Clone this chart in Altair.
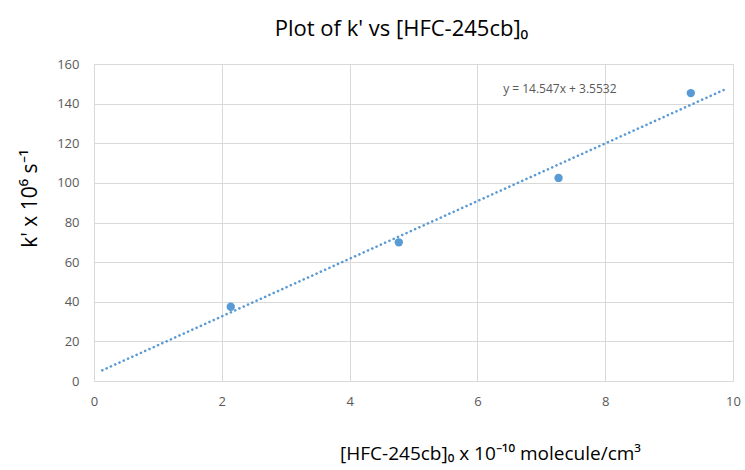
import altair as alt
import pandas as pd

# measured points
conc = [2.14, 4.77, 7.27, 9.34]
kprime = [37.5, 70.0, 102.5, 145.3]

# trendline endpoints
trend_x = [0.13, 9.87]
trend_y = [5.4, 147.1]

eq_text = ["y = 14.547x + 3.5532"]
eq_x = [7.29]
eq_y = [147.5]

x_ticks = [0, 2, 4, 6, 8, 10]
y_ticks = [0, 20, 40, 60, 80, 100, 120, 140, 160]

pts = pd.DataFrame({"x": conc, "y": kprime, "t": [""] * len(conc)})
trend = pd.DataFrame({"x": trend_x, "y": trend_y, "t": [""] * len(trend_x)})
eq = pd.DataFrame({"x": eq_x, "y": eq_y, "t": eq_text})

FONT = "Open Sans"
BLUE = "#5b9bd5"
GRID = "#d9d9d9"
TICKC = "#595959"

xscale = alt.Scale(domain=[0, 10], nice=False, zero=False)
yscale = alt.Scale(domain=[0, 160], nice=False, zero=False)

xaxis = alt.Axis(
    values=x_ticks, format="d", labelFlush=False, labelOverlap=False,
    title="[HFC-245cb]₀ x 10⁻¹⁰ molecule/cm³",
    titleX=396, titleY=72, titleAlign="center", titleBaseline="middle",
    titleFontSize=19, titleFont=FONT, titleFontWeight="normal", titleColor="#000000",
    labelFont=FONT, labelFontSize=13, labelColor=TICKC, labelPadding=14,
    tickSize=0, domainColor=GRID, gridColor=GRID, grid=True,
)
yaxis = alt.Axis(
    values=y_ticks, format="d", labelFlush=False, labelOverlap=False,
    title="k' x 10⁶ s⁻¹",
    titleX=-64, titleY=134, titleAlign="center", titleBaseline="middle", titleAngle=-90,
    titleFontSize=21, titleFont=FONT, titleFontWeight="normal", titleColor="#000000",
    labelFont=FONT, labelFontSize=13, labelColor=TICKC, labelPadding=15,
    tickSize=0, domainColor=GRID, gridColor=GRID, grid=True,
)

enc = dict(
    x=alt.X("x:Q", scale=xscale, axis=xaxis),
    y=alt.Y("y:Q", scale=yscale, axis=yaxis),
)

line = alt.Chart(trend).mark_line(
    color=BLUE, strokeWidth=2.6, strokeDash=[0.1, 4.6], strokeCap="round"
).encode(**enc)

points = alt.Chart(pts).mark_circle(color=BLUE, size=70, opacity=1).encode(**enc)

label = alt.Chart(eq).mark_text(
    font=FONT, fontSize=12, color=TICKC, align="center", baseline="middle"
).encode(text="t:N", **enc)

chart = alt.layer(line, points, label).properties(
    width=639, height=317,
    title=alt.TitleParams(
        "Plot of k' vs [HFC-245cb]₀", font=FONT, fontSize=22, fontWeight="normal",
        color="#000000", anchor="middle", dx=-12, offset=17,
    ),
    autosize=alt.AutoSizeParams(type="none"),
    padding={"left": 94, "top": 64, "right": 12, "bottom": 89},
).configure_view(stroke=None).configure(background="white")

chart.save("out.html", embed_options={"renderer": "svg", "actions": False})
